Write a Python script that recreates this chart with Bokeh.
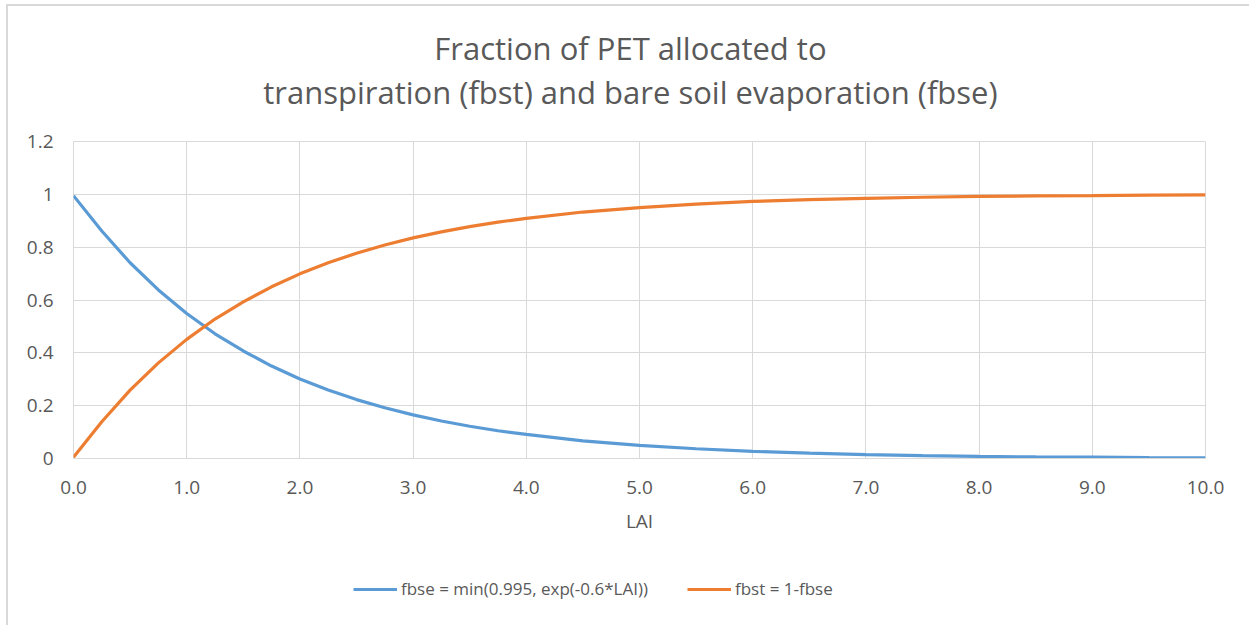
from bokeh.plotting import figure
from bokeh.layouts import column
from bokeh.models import (Range1d, FixedTicker, NumeralTickFormatter, Label,
                          Legend, LegendItem, ColumnDataSource)
from bokeh.embed import file_html
from bokeh.resources import INLINE

# ---- data ----
lai = [0.0, 0.25, 0.5, 0.75, 1.0, 1.25, 1.5, 1.75, 2.0, 2.25, 2.5, 2.75, 3.0,
       3.25, 3.5, 3.75, 4.0, 4.5, 5.0, 5.5, 6.0, 6.5, 7.0, 7.5, 8.0, 8.5,
       9.0, 9.5, 10.0]
fbse = [0.995, 0.861, 0.741, 0.638, 0.549, 0.472, 0.407, 0.350, 0.301, 0.259,
        0.223, 0.192, 0.165, 0.142, 0.122, 0.105, 0.091, 0.067, 0.050, 0.037,
        0.027, 0.020, 0.015, 0.011, 0.008, 0.006, 0.005, 0.003, 0.002]
fbst = [0.005, 0.139, 0.259, 0.362, 0.451, 0.528, 0.593, 0.650, 0.699, 0.741,
        0.777, 0.808, 0.835, 0.858, 0.878, 0.895, 0.909, 0.933, 0.950, 0.963,
        0.973, 0.980, 0.985, 0.989, 0.992, 0.994, 0.995, 0.997, 0.998]
x_ticks = [0, 1, 2, 3, 4, 5, 6, 7, 8, 9, 10]
y_ticks = [0, 0.2, 0.4, 0.6, 0.8, 1.0, 1.2]
title_lines = ["Fraction of PET allocated to",
               "transpiration (fbst) and bare soil evaporation (fbse)"]
series_labels = ["fbse = min(0.995, exp(-0.6*LAI))", "fbst = 1-fbse"]
x_label = "LAI"

FONT = "Open Sans"
TXT = "#595959"
GRID = "#d9d9d9"
BLUE = "#5B9BD5"
ORANGE = "#ED7D31"
W = 1241

src = ColumnDataSource(dict(lai=lai, fbse=fbse, fbst=fbst))
xr = Range1d(0, 10)


def blank(height, yr):
    f = figure(width=W, height=height, output_backend="svg", toolbar_location=None,
               x_range=xr, y_range=yr, min_border=0, title=None)
    f.axis.visible = False
    f.grid.visible = False
    f.outline_line_color = None
    f.background_fill_color = "white"
    f.border_fill_color = "white"
    return f


# ---- title strip (y in pixels, downward) ----
top = blank(118, Range1d(118, 0))
for t, yy in zip(title_lines, [41, 85]):
    top.add_layout(Label(x=4.92, y=yy, text=t, text_align="center",
                         text_baseline="middle", text_font=FONT,
                         text_font_size="31px", text_color=TXT))

# ---- main plot ----
p = figure(width=W, output_backend="svg", toolbar_location=None,
           x_range=xr, y_range=Range1d(0, 1.2),
           min_border_left=65, min_border_right=44,
           min_border_top=17, min_border_bottom=87, title=None)
p.frame_width = 1132
p.frame_height = 317
p.background_fill_color = "white"
p.border_fill_color = "white"
p.outline_line_color = GRID

p.xaxis.ticker = FixedTicker(ticks=x_ticks)
p.yaxis.ticker = FixedTicker(ticks=y_ticks)
p.xaxis.formatter = NumeralTickFormatter(format="0.0")
p.yaxis.formatter = NumeralTickFormatter(format="0.[0]")
for ax in (p.xaxis[0], p.yaxis[0]):
    ax.major_tick_line_color = None
    ax.minor_tick_line_color = None
    ax.major_label_text_font = FONT
    ax.major_label_text_font_size = "19px"
    ax.major_label_text_color = TXT
p.yaxis.axis_line_color = None
p.xaxis.axis_line_color = GRID
p.yaxis.major_label_standoff = 14
p.xaxis.major_label_standoff = 16
p.xaxis.axis_label = x_label
p.xaxis.axis_label_text_font = FONT
p.xaxis.axis_label_text_font_size = "19px"
p.xaxis.axis_label_text_font_style = "normal"
p.xaxis.axis_label_text_color = TXT
p.xaxis.axis_label_standoff = 11

p.xgrid.grid_line_color = GRID
p.ygrid.grid_line_color = GRID
p.xgrid.ticker = FixedTicker(ticks=x_ticks)
p.ygrid.ticker = FixedTicker(ticks=y_ticks)

p.line("lai", "fbse", source=src, line_color=BLUE, line_width=3.2)
p.line("lai", "fbst", source=src, line_color=ORANGE, line_width=3.2)

# ---- legend strip (series drawn out of view, only their legend swatches show) ----
bot = blank(80, Range1d(100, 180))
l1 = bot.line("lai", "fbse", source=src, line_color=BLUE, line_width=3.2)
l2 = bot.line("lai", "fbst", source=src, line_color=ORANGE, line_width=3.2)
legend = Legend(items=[LegendItem(label=series_labels[0], renderers=[l1]),
                       LegendItem(label=series_labels[1], renderers=[l2])],
                orientation="horizontal", location=(280, 25),
                glyph_width=44, glyph_height=20, label_height=20,
                label_standoff=4, spacing=39, padding=0, margin=0,
                border_line_color=None, background_fill_alpha=0,
                label_text_font=FONT, label_text_font_size="17px",
                label_text_color=TXT)
bot.add_layout(legend, "center")

layout = column(top, p, bot, spacing=0)
layout.styles = {"border-top": "2px solid #d9d9d9", "border-left": "2px solid #d9d9d9",
                 "margin-left": "6px", "margin-top": "4px"}

open("out.html", "w").write(file_html(layout, INLINE))
